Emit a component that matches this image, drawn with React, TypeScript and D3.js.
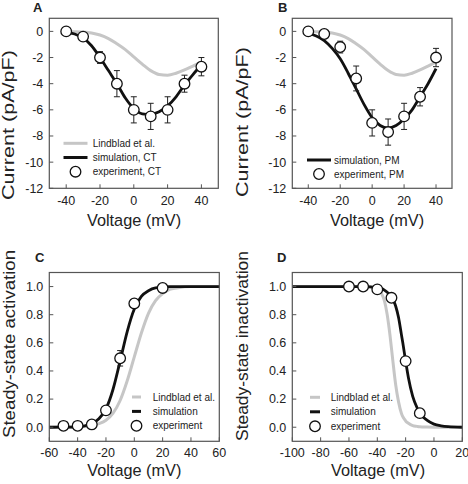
import React from "react";
import * as d3 from "d3";

// ---------- data ----------
const ivVoltages = [-40, -35, -30, -25, -20, -15, -10, -5, 0, 5, 10, 15, 20, 25, 30, 35, 40];
const lindbladIV = [0, -0.02, -0.05, -0.12, -0.28, -0.55, -0.95, -1.4, -1.95, -2.5, -3.0, -3.3, -3.35, -3.2, -2.95, -2.65, -2.35];
const simCT = [-0.05, -0.2, -0.5, -1.1, -2.0, -3.0, -4.0, -5.1, -5.9, -6.3, -6.35, -6.15, -5.7, -5.0, -4.1, -3.3, -2.55];
const simPM = [-0.15, -0.35, -0.7, -1.3, -2.1, -3.2, -4.4, -5.6, -6.6, -7.2, -7.4, -7.2, -6.7, -6.0, -5.0, -4.0, -2.85];

const expIVVoltages = [-40, -30, -20, -10, 0, 10, 20, 30, 40];
const expCT = [0, -0.4, -2.0, -4.0, -6.0, -6.5, -6.0, -4.0, -2.7];
const expCTErr = [0, 0, 0.45, 1.0, 1.0, 1.0, 1.0, 0.65, 0.7];
const expPM = [0, -0.2, -1.2, -3.6, -7.0, -7.7, -6.5, -5.0, -2.0];
const expPMErr = [0, 0, 0.45, 0.95, 1.0, 1.0, 1.0, 0.7, 0.7];

const actVoltages = [-60, -50, -40, -35, -30, -25, -20, -15, -10, -5, 0, 5, 10, 15, 20, 25, 30, 40, 50, 60];
const lindbladAct = [0, 0.001, 0.003, 0.005, 0.01, 0.025, 0.05, 0.1, 0.19, 0.33, 0.5, 0.67, 0.81, 0.9, 0.95, 0.98, 0.99, 1.0, 1.0, 1.0];
const simAct = [0, 0.001, 0.003, 0.01, 0.025, 0.06, 0.13, 0.27, 0.47, 0.68, 0.84, 0.93, 0.97, 0.99, 0.995, 1.0, 1.0, 1.0, 1.0, 1.0];
const expActVoltages = [-50, -40, -30, -20, -10, 0, 20];
const expAct = [0.01, 0.01, 0.02, 0.12, 0.49, 0.88, 0.99];
const expActErr = [0, 0, 0, 0, 0.055, 0, 0];

const inactVoltages = [-100, -60, -50, -45, -40, -37, -35, -33, -31, -30, -29, -27, -25, -23, -22, -20, -18, -15, -12, -10, -5, 0, 5, 10, 20];
const lindbladInact = [1, 1, 1, 0.998, 0.985, 0.95, 0.9, 0.8, 0.65, 0.56, 0.47, 0.3, 0.18, 0.1, 0.075, 0.045, 0.028, 0.012, 0.006, 0.003, 0.001, 0, 0, 0, 0];
const simInact = [1, 1, 1, 0.998, 0.99, 0.985, 0.975, 0.96, 0.94, 0.93, 0.91, 0.86, 0.78, 0.66, 0.6, 0.47, 0.35, 0.22, 0.14, 0.1, 0.05, 0.022, 0.01, 0.004, 0];
const expInactVoltages = [-60, -50, -40, -30, -20, -10];
const expInact = [1.0, 1.0, 0.98, 0.92, 0.47, 0.1];
const expInactErr = [0, 0, 0, 0, 0, 0];

const ivYTicks = [0, -2, -4, -6, -8, -10, -12];
const ivXTicks = [-40, -20, 0, 20, 40];
const ssYTicks = [0, 0.2, 0.4, 0.6, 0.8, 1.0];
const actXTicks = [-60, -40, -20, 0, 20, 40, 60];
const inactXTicks = [-100, -80, -60, -40, -20, 0, 20];

const FONT = "'Liberation Sans', Arial, Helvetica, sans-serif";
const GRAY = "#c6c6c6";
const BLACK = "#111";
const FRAME = "#555";
const TEXT = "#222";

type Series = { x: number[]; y: number[] };
type Exp = { x: number[]; y: number[]; err: number[] };
type LegendItem = { kind: "gray" | "black" | "circle"; label: string };

type PanelProps = {
  letter: string;
  letterPos: [number, number];
  left: number; right: number; top: number; bottom: number;
  xDomain: [number, number]; yDomain: [number, number];
  xTicks: number[]; yTicks: number[]; yFmt: (v: number) => string;
  gray: Series; black: Series; exp: Exp;
  yLabel: string; yLabelX: number; yLabelY: number; yLabelLen: number;
  xLabelX: number; xLabelY: number; xTickDy: number;
  legend: LegendItem[]; legendX: number; legendY: number; legendDy: number;
  legendLineW: number; legendTextX: number;
};

function Panel(p: PanelProps) {
  const x = d3.scaleLinear().domain(p.xDomain).range([p.left, p.right]);
  const y = d3.scaleLinear().domain(p.yDomain).range([p.bottom, p.top]);
  const mk = (s: Series) =>
    d3
      .line<number>()
      .x((v) => x(v))
      .y((_, i) => y(s.y[i]))
      .curve(d3.curveMonotoneX)(s.x) || "";
  return (
    <g>
      <text x={p.letterPos[0]} y={p.letterPos[1]} fontFamily={FONT} fontWeight="bold" fontSize={13} fill={TEXT}>
        {p.letter}
      </text>
      <path d={mk(p.gray)} fill="none" stroke={GRAY} strokeWidth={3} />
      <path d={mk(p.black)} fill="none" stroke={BLACK} strokeWidth={2.8} />
      {p.exp.x.map((v, i) =>
        p.exp.err[i] > 0 ? (
          <g key={"e" + i} stroke="#222" strokeWidth={1}>
            <line x1={x(v)} x2={x(v)} y1={y(p.exp.y[i] + p.exp.err[i])} y2={y(p.exp.y[i] - p.exp.err[i])} />
            <line x1={x(v) - 3} x2={x(v) + 3} y1={y(p.exp.y[i] + p.exp.err[i])} y2={y(p.exp.y[i] + p.exp.err[i])} />
            <line x1={x(v) - 3} x2={x(v) + 3} y1={y(p.exp.y[i] - p.exp.err[i])} y2={y(p.exp.y[i] - p.exp.err[i])} />
          </g>
        ) : null
      )}
      {p.exp.x.map((v, i) => (
        <circle key={"c" + i} cx={x(v)} cy={y(p.exp.y[i])} r={5.3} fill="#fff" stroke="#111" strokeWidth={1.3} />
      ))}
      <rect x={p.left} y={p.top} width={p.right - p.left} height={p.bottom - p.top} fill="none" stroke={FRAME} strokeWidth={1.2} />
      {p.xTicks.map((t) => (
        <g key={"xt" + t}>
          <line x1={x(t)} x2={x(t)} y1={p.bottom} y2={p.bottom - 4} stroke={FRAME} strokeWidth={1} />
          <text x={x(t)} y={p.bottom + p.xTickDy} textAnchor="middle" fontFamily={FONT} fontSize={12.5} fill={TEXT}>
            {t}
          </text>
        </g>
      ))}
      {p.yTicks.map((t) => (
        <g key={"yt" + t}>
          <line x1={p.left} x2={p.left + 4} y1={y(t)} y2={y(t)} stroke={FRAME} strokeWidth={1} />
          <text x={p.left - 6} y={y(t)} dy="0.35em" textAnchor="end" fontFamily={FONT} fontSize={12.5} fill={TEXT}>
            {p.yFmt(t)}
          </text>
        </g>
      ))}
      <text x={p.xLabelX} y={p.xLabelY} textAnchor="middle" fontFamily={FONT} fontSize={16.3} fill={TEXT}>
        Voltage (mV)
      </text>
      <text
        transform={`translate(${p.yLabelX},${p.yLabelY}) rotate(-90)`}
        textAnchor="middle"
        fontFamily={FONT}
        fontSize={16.3}
        fill={TEXT}
        textLength={p.yLabelLen}
        lengthAdjust="spacingAndGlyphs"
      >
        {p.yLabel}
      </text>
      {p.legend.map((it, i) => {
        const ly = p.legendY + i * p.legendDy;
        return (
          <g key={"l" + i}>
            {it.kind === "circle" ? (
              <circle cx={p.legendX} cy={ly} r={5.3} fill="#fff" stroke="#111" strokeWidth={1.3} />
            ) : (
              <line
                x1={p.legendX - p.legendLineW / 2}
                x2={p.legendX + p.legendLineW / 2}
                y1={ly}
                y2={ly}
                stroke={it.kind === "gray" ? GRAY : BLACK}
                strokeWidth={3}
              />
            )}
            <text x={p.legendTextX} y={ly} dy="0.35em" fontFamily={FONT} fontSize={10} fill={TEXT}>
              {it.label}
            </text>
          </g>
        );
      })}
    </g>
  );
}

const ivFmt = (v: number) => String(v);
const ssFmt = (v: number) => v.toFixed(1);

export default function App() {
  return (
    <svg width={468} height={484} style={{ position: "absolute", left: 0, top: 0, background: "#fff" }}>
      <rect width={468} height={484} fill="#fff" />
      <Panel
        letter="A" letterPos={[33, 12]}
        left={49.3} right={218.3} top={18.3} bottom={188.3}
        xDomain={[-50, 50]} yDomain={[-12, 1]}
        xTicks={ivXTicks} yTicks={ivYTicks} yFmt={ivFmt}
        gray={{ x: ivVoltages, y: lindbladIV }} black={{ x: ivVoltages, y: simCT }}
        exp={{ x: expIVVoltages, y: expCT, err: expCTErr }}
        yLabel="Current (pA/pF)" yLabelX={14} yLabelY={125} yLabelLen={150}
        xLabelX={134} xLabelY={226} xTickDy={17}
        legend={[{ kind: "gray", label: "Lindblad et al." }, { kind: "black", label: "simulation, CT" }, { kind: "circle", label: "experiment, CT" }]}
        legendX={75.5} legendY={143.3} legendDy={14.2} legendLineW={24} legendTextX={92.7}
      />
      <Panel
        letter="B" letterPos={[278, 12]}
        left={292.3} right={452} top={18.3} bottom={188.3}
        xDomain={[-50, 50]} yDomain={[-12, 1]}
        xTicks={ivXTicks} yTicks={ivYTicks} yFmt={ivFmt}
        gray={{ x: ivVoltages, y: lindbladIV }} black={{ x: ivVoltages, y: simPM }}
        exp={{ x: expIVVoltages, y: expPM, err: expPMErr }}
        yLabel="Current (pA/pF)" yLabelX={248} yLabelY={122} yLabelLen={150}
        xLabelX={377} xLabelY={226} xTickDy={17}
        legend={[{ kind: "black", label: "simulation, PM" }, { kind: "circle", label: "experiment, PM" }]}
        legendX={319} legendY={160} legendDy={14} legendLineW={24} legendTextX={334}
      />
      <Panel
        letter="C" letterPos={[35, 262]}
        left={49.3} right={219.3} top={272.5} bottom={441.3}
        xDomain={[-60, 60]} yDomain={[-0.1, 1.1]}
        xTicks={actXTicks} yTicks={ssYTicks} yFmt={ssFmt}
        gray={{ x: actVoltages, y: lindbladAct }} black={{ x: actVoltages, y: simAct }}
        exp={{ x: expActVoltages, y: expAct, err: expActErr }}
        yLabel="Steady-state activation" yLabelX={14.5} yLabelY={344} yLabelLen={188}
        xLabelX={134.3} xLabelY={476} xTickDy={16}
        legend={[{ kind: "gray", label: "Lindblad et al." }, { kind: "black", label: "simulation" }, { kind: "circle", label: "experiment" }]}
        legendX={136.5} legendY={397} legendDy={14.4} legendLineW={9} legendTextX={152.7}
      />
      <Panel
        letter="D" letterPos={[277, 262]}
        left={292.3} right={462.3} top={272.5} bottom={441.3}
        xDomain={[-100, 20]} yDomain={[-0.1, 1.1]}
        xTicks={inactXTicks} yTicks={ssYTicks} yFmt={ssFmt}
        gray={{ x: inactVoltages, y: lindbladInact }} black={{ x: inactVoltages, y: simInact }}
        exp={{ x: expInactVoltages, y: expInact, err: expInactErr }}
        yLabel="Steady-state inactivation" yLabelX={247.5} yLabelY={346} yLabelLen={190}
        xLabelX={378} xLabelY={476} xTickDy={16}
        legend={[{ kind: "gray", label: "Lindblad et al." }, { kind: "black", label: "simulation" }, { kind: "circle", label: "experiment" }]}
        legendX={315} legendY={397.3} legendDy={14.5} legendLineW={10} legendTextX={330.7}
      />
    </svg>
  );
}
